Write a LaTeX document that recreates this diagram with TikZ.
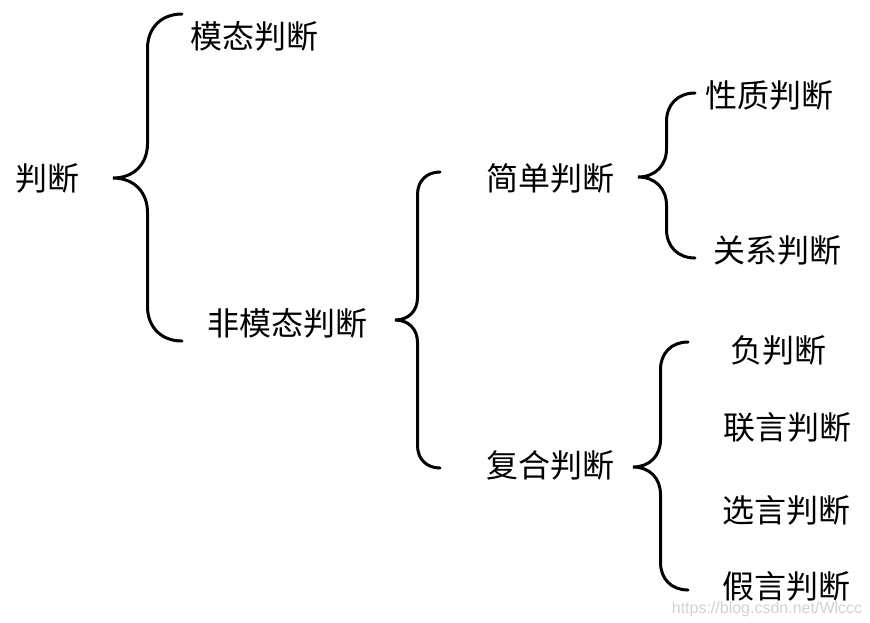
\documentclass[tikz,border=0pt]{standalone}
\usepackage{fontspec}
\usepackage{tikz}
\usetikzlibrary{positioning, calc}
\newfontfamily\cjk{Noto Sans CJK SC}
\newfontfamily\wmfont{Liberation Sans}

% brace: #1 top end, #2 tip, #3 bottom end, #4 half width
\newcommand{\bracedraw}[4]{%
  \draw[brace] (#1) .. controls +(-0.6*#4,0) and +(0,-0.6*#4) .. ($(#1)+(-#4,#4)$)
    -- ($(#2)+(#4,-#4)$) .. controls +(0,0.6*#4) and +(0.6*#4,0) .. (#2)
    .. controls +(0.6*#4,0) and +(0,-0.6*#4) .. ($(#2)+(#4,#4)$)
    -- ($(#3)+(-#4,-#4)$) .. controls +(0,0.6*#4) and +(-0.6*#4,0) .. (#3);}

\begin{document}
\begin{tikzpicture}[
            x=0.5pt, y=-0.5pt,
            term/.style={inner sep=0pt, anchor=west, font=\cjk\fontsize{16}{16}\selectfont},
            brace/.style={line width=1.5pt, line cap=round},
            watermark/.style={font=\wmfont\fontsize{8}{8}\selectfont, text=gray!35, inner sep=0pt}
        ]
            \fill[white] (0,0) rectangle (870,622);
            \useasboundingbox (0,0) rectangle (870,622);

% Terms
            \node[term] (pd) at (15,178) {判断};
            \node[term] (mtpd) at (190,36) {模态判断};
            \node[term] (fmtpd) at (207,323) {非模态判断};
            \node[term] (jdpd) at (486,178) {简单判断};
            \node[term] (fhpd) at (486,465) {复合判断};
            \node[term] (xzpd) at (705,95) {性质判断};
            \node[term] (gxpd) at (713,250) {关系判断};
            \node[term] (fpd) at (730,350) {负判断};
            \node[term] (lypd) at (723,427) {联言判断};
            \node[term] (xypd) at (722,510) {选言判断};
            \node[term] (jypd) at (722,586) {假言判断};

% Brace ends
            \coordinate (t1) at (113,178);
            \coordinate (a1) at (182,14);
            \coordinate (z1) at (182,341);
            \coordinate (t2) at (395,320);
            \coordinate (a2) at (440,172);
            \coordinate (z2) at (440,468);
            \coordinate (t3) at (638,177);
            \coordinate (a3) at (695,93);
            \coordinate (z3) at (695,258);
            \coordinate (t4) at (633,467);
            \coordinate (a4) at (688,342);
            \coordinate (z4) at (688,590);

% Braces
            \bracedraw{a1}{t1}{z1}{34.5}
            \bracedraw{a2}{t2}{z2}{22.5}
            \bracedraw{a3}{t3}{z3}{28.5}
            \bracedraw{a4}{t4}{z4}{27.5}

% Watermark
            \node[watermark] (wm) at (767,609) {https://blog.csdn.net/Wlccc};

        \end{tikzpicture}
\end{document}
